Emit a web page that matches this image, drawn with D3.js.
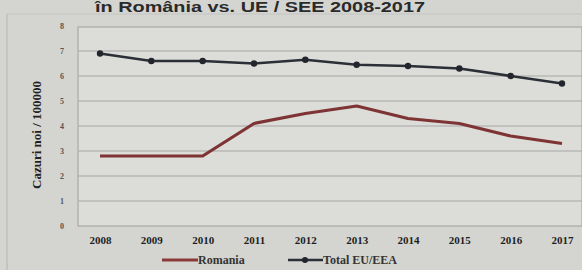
<!DOCTYPE html>
<html><head><meta charset="utf-8">
<script src="https://cdn.jsdelivr.net/npm/d3@7"></script>
<style>body{margin:0;background:#d4d5d1;}svg{display:block;}</style>
</head><body>
<svg id="c" width="582" height="270"></svg>
<script>
const years = ["2008","2009","2010","2011","2012","2013","2014","2015","2016","2017"];
const romania = [2.8, 2.8, 2.8, 4.1, 4.5, 4.8, 4.3, 4.1, 3.6, 3.3];
const totalEU = [6.9, 6.6, 6.6, 6.5, 6.65, 6.45, 6.4, 6.3, 6.0, 5.7];
const yTicks = [0,1,2,3,4,5,6,7,8];
const titleText = "în România vs. UE / SEE  2008-2017";
const yLabel = "Cazuri noi / 100000";
const legendNames = ["Romania", "Total EU/EEA"];

const svg = d3.select("#c");
const W = 582, H = 270;
const m = {left: 78, right: 582, top: 27, bottom: 226};

svg.append("rect").attr("width", W).attr("height", H).attr("fill", "#d4d5d1");
svg.append("line").attr("x1", 7).attr("x2", 7).attr("y1", 14).attr("y2", H).attr("stroke", "#b9bab7").attr("stroke-width", 1.2);
svg.append("line").attr("x1", 7).attr("x2", W).attr("y1", 14).attr("y2", 14).attr("stroke", "#c4c5c2").attr("stroke-width", 1);

svg.append("text").attr("x", 260).attr("y", 12).attr("text-anchor", "middle")
  .attr("font-family", "Liberation Sans, Arial, sans-serif").attr("font-weight", "bold")
  .attr("font-size", 14).attr("textLength", 330).attr("lengthAdjust", "spacingAndGlyphs")
  .attr("fill", "#2a2a2a").text(titleText);

const x = d3.scalePoint().domain(years).range([100, 562]);
const y = d3.scaleLinear().domain([0, 8]).range([m.bottom, m.top - 1]);

svg.append("rect").attr("x", m.left).attr("y", m.top).attr("width", m.right - m.left).attr("height", m.bottom - m.top)
  .attr("fill", "#dcddd9").attr("stroke", "#a9aaa7").attr("stroke-width", 1.2);

svg.append("g").selectAll("line").data(yTicks.filter(d => d > 0 && d < 8)).join("line")
  .attr("x1", m.left).attr("x2", m.right).attr("y1", d => y(d)).attr("y2", d => y(d))
  .attr("stroke", "#a6a8a5").attr("stroke-width", 1.2);

const ya = svg.append("g").attr("transform", `translate(${m.left - 14},0)`)
  .call(d3.axisLeft(y).tickValues(yTicks).tickSize(0).tickPadding(0).tickFormat(d3.format("d")));
ya.select(".domain").remove();
ya.selectAll("text").attr("font-family", "Liberation Serif, Times New Roman, serif").attr("font-weight", "bold")
  .attr("font-size", 8).attr("fill", "#555");

const xa = svg.append("g").attr("transform", `translate(0,${m.bottom + 10})`)
  .call(d3.axisBottom(x).tickSize(0).tickPadding(0));
xa.select(".domain").remove();
xa.selectAll("text").attr("font-family", "Liberation Serif, Times New Roman, serif").attr("font-weight", "bold")
  .attr("font-size", 11).attr("fill", "#1e1e1e");

svg.append("text").attr("transform", "translate(41,135) rotate(-90)").attr("text-anchor", "middle")
  .attr("font-family", "Liberation Serif, Times New Roman, serif").attr("font-weight", "bold")
  .attr("font-size", 13).attr("fill", "#222").text(yLabel);

const line = d3.line().x((d, i) => x(years[i])).y(d => y(d));

svg.append("path").datum(romania).attr("d", line).attr("fill", "none")
  .attr("stroke", "#7e3434").attr("stroke-width", 3.2).attr("stroke-linejoin", "round");

svg.append("path").datum(totalEU).attr("d", line).attr("fill", "none")
  .attr("stroke", "#2b2f36").attr("stroke-width", 2.6).attr("stroke-linejoin", "round");
svg.append("g").selectAll("circle").data(totalEU).join("circle")
  .attr("cx", (d, i) => x(years[i])).attr("cy", d => y(d)).attr("r", 3.2).attr("fill", "#22262c");

const lg = svg.append("g").attr("font-family", "Liberation Serif, Times New Roman, serif").attr("font-weight", "bold")
  .attr("font-size", 12).attr("fill", "#333");
lg.append("line").attr("x1", 162).attr("x2", 198).attr("y1", 260).attr("y2", 260).attr("stroke", "#8a3a3a").attr("stroke-width", 3);
lg.append("text").attr("x", 198).attr("y", 264).text(legendNames[0]);
lg.append("line").attr("x1", 288).attr("x2", 323).attr("y1", 260).attr("y2", 260).attr("stroke", "#2b2f36").attr("stroke-width", 2.6);
lg.append("circle").attr("cx", 305).attr("cy", 260).attr("r", 3).attr("fill", "#22262c");
lg.append("text").attr("x", 323).attr("y", 264).text(legendNames[1]);
</script>
</body></html>
